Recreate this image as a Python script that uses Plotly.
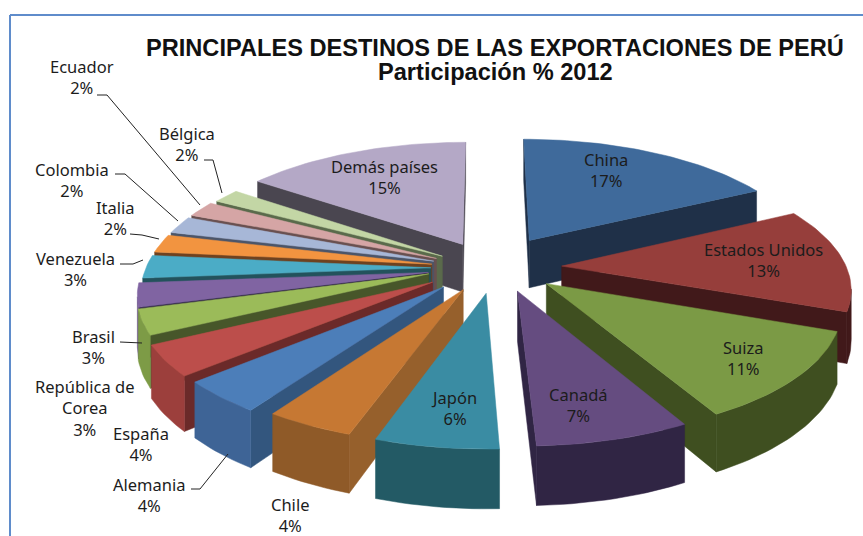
import math
import plotly.graph_objects as go

# ---- data ----
countries = ["China", "Estados Unidos", "Suiza", "Canadá", "Japón", "Chile", "Alemania", "España",
             "República de<br>Corea", "Brasil", "Venezuela", "Italia", "Colombia", "Ecuador", "Bélgica", "Demás países"]
shares = [17.4, 13.2, 11.3, 7.3, 5.8, 4.2, 4.1, 3.9, 3.2, 3.0, 2.9, 2.3, 2.2, 2.0, 1.8, 15.0]
title_lines = ["PRINCIPALES DESTINOS DE LAS EXPORTACIONES DE PERÚ", "Participación % 2012"]

# ---- style ----
pull = [.27, .27, .28, .23, .18, .19, .20, .20, .21, .20, .19, .18, .18, .18, .18, .22]
nudge_x = [.02, 0, 0, .05, .03, .01, -.01, -.015, 0, 0, 0, -.01, -.01, -.01, 0, .02]
nudge_y = [0, 0, -.06, -.04, .02, 0, 0, 0, -.03, 0, 0, 0, 0, 0, 0, 0]
top_col = ["#3F6A9B", "#963E3B", "#7B9A45", "#654C80", "#3A8CA3", "#C67833", "#4C7EB9", "#BC4E4B",
           "#9BBB59", "#8064A2", "#4BACC6", "#F29440", "#A7B7D7", "#D5A5A5", "#C3D6A5", "#B4A8C6"]
arc_col = ["#1F3048", "#41191A", "#3F4F20", "#302544", "#235A65", "#8F5A28", "#3E6496", "#9C3F3C",
           "#7D9B46", "#6A5488", "#3A8EA5", "#C97A35", "#8A97B2", "#B08888", "#A2B288", "#958BA4"]
side_col = ["#1F3048", "#41191A", "#3F4F20", "#302544", "#235A65", "#96602C", "#33567E", "#6B2A29",
            "#47562A", "#2E2444", "#23525C", "#6E4220", "#4B5569", "#695050", "#5A6A4B", "#4A4650"]
label_pos = [(606, 170), (763, 260), (743, 358), (578, 405), (454, 408), (290, 515), (149, 495), (141, 444),
             (85, 408), (93, 347), (75, 269), (115, 218), (72, 180), (82, 77), (187, 144), (384, 177)]
leaders = [[(97, 95), (107, 95), (200, 205)], [(204, 160), (213, 160), (222, 193)],
           [(115, 174), (125, 174), (178, 221)], [(130, 234), (142, 235), (159, 239)],
           [(120, 264), (133, 264), (143, 260)], [(120, 342), (142, 343)], [(191, 489), (200, 489), (228, 454)]]
CX, CY, R, K, P, H = 485, 268, 285, 0.435, 0.15, 49
FONT = "Noto Sans"


def project(x, y, z):
    s = 1 / (1 - P * y)
    return CX + R * x * s, CY + (R * K * y + H * z) * s


def area(q):
    return sum(q[i][0] * q[(i + 1) % len(q)][1] - q[(i + 1) % len(q)][0] * q[i][1] for i in range(len(q)))


def poly(fig, q, color):
    fig.add_trace(go.Scatter(x=[p[0] for p in q] + [q[0][0]], y=[p[1] for p in q] + [q[0][1]], mode="lines",
                             fill="toself", fillcolor=color, line=dict(width=0.5, color=color),
                             hoverinfo="skip", showlegend=False))


total = sum(shares)
slices, acc = [], 0.0
for i, v in enumerate(shares):
    t0, t1 = acc / total * 2 * math.pi, (acc + v) / total * 2 * math.pi
    acc += v
    slices.append((i, t0, t1))

fig = go.Figure()
for i, t0, t1 in sorted(slices, key=lambda s: -math.cos((s[1] + s[2]) / 2) * (1 + pull[s[0]])):
    mid = (t0 + t1) / 2
    ox, oy = pull[i] * math.sin(mid) + nudge_x[i], -pull[i] * math.cos(mid) + nudge_y[i]
    n = max(4, int((t1 - t0) * 40))
    ts = [t0 + (t1 - t0) * j / n for j in range(n + 1)]
    rim = [(ox + math.sin(t), oy - math.cos(t)) for t in ts]
    tp = [project(x, y, 0) for x, y in rim]
    bt = [project(x, y, 1) for x, y in rim]
    at, ab = project(ox, oy, 0), project(ox, oy, 1)
    q = [at, tp[0], bt[0], ab]
    if area(q) < 0:
        poly(fig, q, side_col[i])
    q = [tp[-1], at, ab, bt[-1]]
    if area(q) < 0:
        poly(fig, q, side_col[i])
    vis = [j for j in range(n) if area([tp[j], tp[j + 1], bt[j + 1], bt[j]]) < 0]
    if vis:
        a, b = vis[0], vis[-1] + 1
        poly(fig, tp[a:b + 1] + bt[a:b + 1][::-1], arc_col[i])
    poly(fig, [at] + tp, top_col[i])

for line in leaders:
    fig.add_trace(go.Scatter(x=[p[0] for p in line], y=[p[1] for p in line], mode="lines",
                             line=dict(color="#222222", width=1), hoverinfo="skip", showlegend=False))

annots = [dict(x=px, y=py, xref="x", yref="y", showarrow=False, align="center",
               text=f"{c}<br>{round(v)}%", font=dict(family=FONT, size=16.5, color="#1c1c1c"))
          for c, v, (px, py) in zip(countries, shares, label_pos)]
for line, ty in zip(title_lines, (47, 72)):
    annots.append(dict(x=495, y=ty, xref="x", yref="y", showarrow=False, align="center",
                       text="<b>" + line + "</b>",
                       font=dict(family="Liberation Sans", size=23.6, color="#111111")))

fig.update_layout(
    width=863, height=536, margin=dict(l=0, r=0, t=0, b=0), paper_bgcolor="white", plot_bgcolor="white",
    xaxis=dict(range=[0, 863], visible=False, fixedrange=True),
    yaxis=dict(range=[536, 0], visible=False, fixedrange=True),
    annotations=annots, showlegend=False,
    shapes=[dict(type="line", x0=10, x1=863, y0=15, y1=15, line=dict(color="#5F8CCB", width=2)),
            dict(type="line", x0=10, x1=10, y0=15, y1=536, line=dict(color="#5F8CCB", width=2))],
)
fig.write_html("out.html", config=dict(displayModeBar=False),
               post_script="document.body.style.margin='0';document.documentElement.style.overflow='hidden';")
